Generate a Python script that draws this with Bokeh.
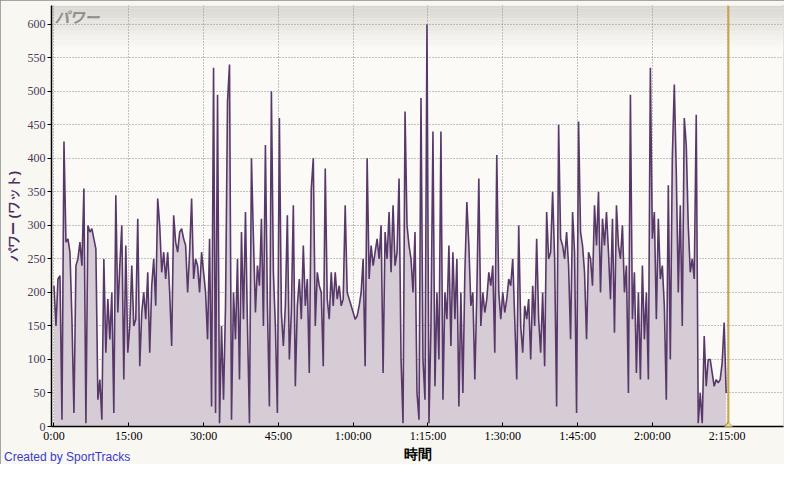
from bokeh.plotting import figure
from bokeh.models import FixedTicker, Span, Label, BoxAnnotation, Range1d, Div
from bokeh.layouts import column
from bokeh.embed import file_html
from bokeh.resources import INLINE

# Power samples (W), one every 0.4 min
power_w = [
    210, 150, 220, 225, 10, 425, 275, 280, 260, 160,
    20, 240, 250, 275, 240, 355, 5, 300, 290, 295,
    280, 265, 40, 70, 10, 250, 110, 190, 130, 200,
    20, 345, 170, 240, 300, 70, 270, 110, 150, 240,
    150, 160, 310, 90, 170, 200, 160, 230, 110, 210,
    250, 180, 340, 300, 230, 260, 220, 260, 200, 120,
    315, 275, 260, 290, 295, 280, 270, 200, 260, 340,
    220, 250, 240, 200, 260, 230, 200, 130, 280, 30,
    535, 20, 495, 5, 150, 40, 180, 485, 540, 10,
    200, 130, 250, 70, 290, 160, 320, 150, 5, 400,
    280, 170, 240, 210, 310, 150, 420, 180, 30, 500,
    230, 150, 20, 460, 170, 120, 180, 315, 100, 170,
    330, 60, 180, 220, 160, 270, 180, 220, 80, 355,
    400, 150, 230, 210, 200, 90, 385, 190, 160, 230,
    180, 230, 190, 210, 180, 190, 330, 200, 190, 180,
    170, 160, 165, 180, 200, 250, 90, 400, 220, 270,
    240, 260, 280, 250, 300, 80, 290, 250, 320, 230,
    330, 240, 260, 370, 100, 5, 470, 300, 270, 250,
    200, 290, 50, 10, 490, 100, 40, 600, 5, 150,
    440, 60, 200, 100, 440, 40, 200, 160, 270, 120,
    260, 160, 250, 30, 200, 50, 230, 335, 270, 180,
    200, 70, 200, 370, 150, 200, 170, 190, 230, 210,
    240, 110, 405, 200, 160, 200, 170, 190, 220, 210,
    250, 160, 70, 300, 150, 110, 180, 160, 190, 100,
    210, 150, 280, 160, 110, 200, 90, 320, 250, 260,
    350, 250, 30, 450, 280, 270, 250, 290, 240, 130,
    320, 260, 20, 455, 290, 270, 230, 130, 260, 250,
    210, 330, 270, 350, 200, 310, 270, 320, 260, 190,
    310, 140, 330, 270, 250, 300, 200, 240, 50, 495,
    160, 230, 80, 200, 70, 240, 130, 200, 70, 535,
    280, 320, 160, 310, 220, 240, 180, 40, 360, 100,
    400, 510, 380, 200, 330, 150, 460, 420, 300, 230,
    250, 220, 465, 5, 50, 5, 135, 60, 100, 100,
    80, 60, 70, 65, 70, 95, 155, 50,
]
sample_step_min = 0.4
time_min = [i * sample_step_min for i in range(len(power_w))]

x_ticks_min = [0, 15, 30, 45, 60, 75, 90, 105, 120, 135]
x_tick_labels = ["0:00", "15:00", "30:00", "45:00", "1:00:00", "1:15:00",
                 "1:30:00", "1:45:00", "2:00:00", "2:15:00"]
y_ticks = [0, 50, 100, 150, 200, 250, 300, 350, 400, 450, 500, 550, 600]
lap_marker_min = 135.25

chart_title = "パワー"
y_title = "パワー (ワット)"
x_title = "時間"
credit = "Created by SportTracks"

X_MIN, X_MAX = -0.5, 146.3
Y_MIN, Y_MAX = 0, 628

W, H = 784, 464

p = figure(width=W, height=H, output_backend="svg", toolbar_location=None,
           x_range=Range1d(X_MIN, X_MAX), y_range=Range1d(Y_MIN, Y_MAX),
           min_border_left=51, min_border_right=1, min_border_top=5,
           min_border_bottom=36)

p.background_fill_color = "#fbfaf6"
p.border_fill_color = "#f8f7f2"
p.outline_line_color = None

# header gradient inside the plot area
top_c = (0xdc, 0xd8, 0xd2)
bot_c = (0xfb, 0xfa, 0xf6)
n_bands = 14
band_h = 67.0 / n_bands
for k in range(n_bands):
    t = k / (n_bands - 1)
    c = tuple(int(round(top_c[j] + (bot_c[j] - top_c[j]) * t)) for j in range(3))
    col = "#%02x%02x%02x" % c
    p.add_layout(BoxAnnotation(top=Y_MAX - k * band_h, bottom=Y_MAX - (k + 1) * band_h,
                               fill_color=col, fill_alpha=1.0, line_color=None,
                               level="image"))

# grids
p.xgrid.ticker = FixedTicker(ticks=x_ticks_min)
p.ygrid.ticker = FixedTicker(ticks=y_ticks)
for g in (p.xgrid, p.ygrid):
    g.grid_line_color = "#8a8a8a"
    g.grid_line_dash = "1 2"
    g.grid_line_width = 1

# data
p.varea(x=time_min, y1=0, y2=power_w, fill_color="#d5ccd6", fill_alpha=1.0)
p.line(x=time_min, y=power_w, line_color="#583868", line_width=1.6)

# axes
p.xaxis.ticker = FixedTicker(ticks=x_ticks_min)
p.xaxis.major_label_overrides = {t: l for t, l in zip(x_ticks_min, x_tick_labels)}
p.yaxis.ticker = FixedTicker(ticks=y_ticks)
for ax in (p.xaxis, p.yaxis):
    ax.axis_line_color = "black"
    ax.axis_line_width = 1.5
    ax.major_tick_line_color = "black"
    ax.minor_tick_line_color = None
    ax.major_label_text_font = "Liberation Sans Narrow"
    ax.major_label_text_font_size = "12px"
p.xaxis.major_tick_in = 4
p.xaxis.major_tick_out = 0
p.xaxis.major_label_standoff = 2
p.xaxis.major_label_text_color = "black"
p.xaxis.axis_label = x_title
p.xaxis.axis_label_text_font = "Liberation Sans"
p.xaxis.axis_label_text_font_style = "bold"
p.xaxis.axis_label_text_font_size = "14px"
p.xaxis.axis_label_text_color = "black"
p.xaxis.axis_label_standoff = 0

p.yaxis.major_tick_in = 0
p.yaxis.major_tick_out = 4
p.yaxis.major_label_standoff = 2
p.yaxis.major_label_text_color = "#4a3a58"
p.yaxis.axis_label = y_title
p.yaxis.axis_label_text_font = "Liberation Sans"
p.yaxis.axis_label_text_font_style = "bold"
p.yaxis.axis_label_text_font_size = "13px"
p.yaxis.axis_label_text_color = "#4a2f5e"
p.yaxis.axis_label_standoff = 4

# lap line and marker
p.add_layout(Span(location=lap_marker_min, dimension="height",
                  line_color="#c9a64c", line_width=2))
p.add_layout(Label(x=lap_marker_min, y=0, text="◆", text_font="DejaVu Sans",
                   text_font_size="17px", text_color="#8c7a2a",
                   text_align="center", text_baseline="middle"))
p.add_layout(Label(x=lap_marker_min, y=0, text="◆", text_font="DejaVu Sans",
                   text_font_size="13px", text_color="#f0df78",
                   text_align="center", text_baseline="middle"))

# title in the header
p.add_layout(Label(x=X_MIN, y=Y_MAX, x_offset=3, y_offset=0, text=chart_title,
                   text_font="Noto Sans CJK JP", text_font_size="15px",
                   text_font_style="bold italic", text_color="#8e8e8e",
                   text_baseline="top", text_align="left"))

credit_div = Div(text=credit, width=200, height=14, margin=(-14, 0, 0, 4),
                 styles={"font-family": "Liberation Sans, sans-serif",
                         "font-size": "12px", "color": "#3a3acc",
                         "line-height": "14px", "white-space": "nowrap"})

layout = column(p, credit_div, spacing=0,
                styles={"outline": "2px solid #8a8a8a", "outline-offset": "-2px"})

open("out.html", "w").write(file_html(layout, INLINE))
